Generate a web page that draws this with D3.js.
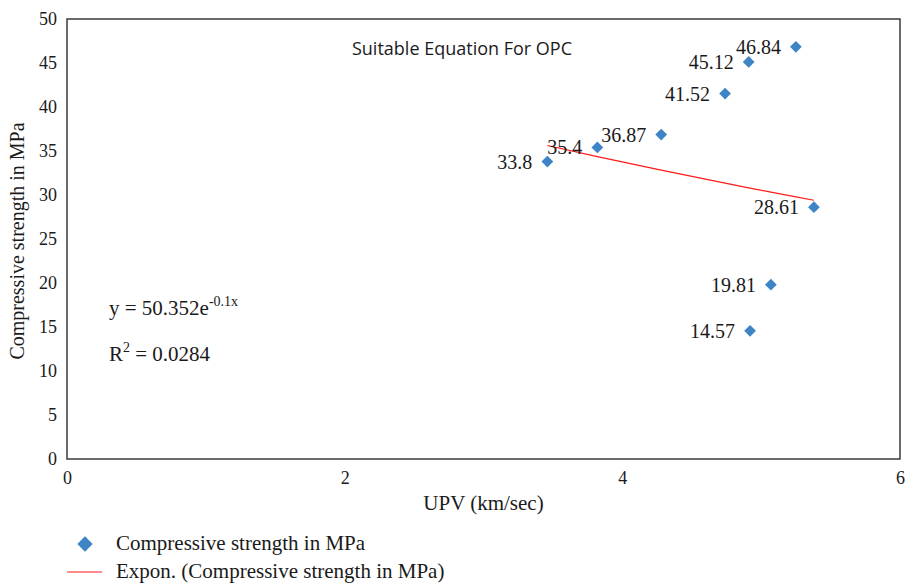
<!DOCTYPE html>
<html lang="en">
<head>
<meta charset="UTF-8">
<title>Suitable Equation For OPC</title>
<style>
  body { margin: 0; background: #fff; }
  svg text { font-family: "Liberation Serif", "DejaVu Serif", serif; fill: #1a1a1a; }
</style>
</head>
<body>
<div id="chart"></div>
<script src="https://d3js.org/d3.v7.min.js"></script>
<script>
// data
var upv = [5.25, 4.91, 4.74, 4.28, 3.82, 3.46, 5.38, 5.07, 4.92];
var strength = [46.84, 45.12, 41.52, 36.87, 35.4, 33.8, 28.61, 19.81, 14.57];
var xTicks = [0, 2, 4, 6];
var yTicks = [0, 5, 10, 15, 20, 25, 30, 35, 40, 45, 50];
// trendline shown on the chart: y = 50.352 e^(-0.1x)
var trendA = 50.352, trendB = -0.1;

var W = 906, H = 584;
var margin = { top: 19, right: 6, bottom: 125, left: 67 };
var width = W - margin.left - margin.right;
var height = H - margin.top - margin.bottom;

var points = upv.map(function (x, i) { return { x: x, y: strength[i] }; });

var xScale = d3.scaleLinear().domain([0, 6]).range([0, width]);
var yScale = d3.scaleLinear().domain([0, 50]).range([height, 0]);

var svg = d3.select('#chart').append('svg')
  .attr('width', W).attr('height', H);
var g = svg.append('g')
  .attr('transform', `translate(${margin.left},${margin.top})`);

// frame
g.append('rect')
  .attr('width', width).attr('height', height)
  .attr('fill', 'none').attr('stroke', '#3a3a3a').attr('stroke-width', 1.5);

// axes (labels only)
var xAxis = g.append('g')
  .attr('transform', `translate(0,${height})`)
  .call(d3.axisBottom(xScale).tickValues(xTicks).tickSize(0).tickPadding(12).tickFormat(d3.format('d')));
var yAxis = g.append('g')
  .call(d3.axisLeft(yScale).tickValues(yTicks).tickSize(0).tickPadding(10).tickFormat(d3.format('d')));
[xAxis, yAxis].forEach(function (a) {
  a.attr('font-family', null).attr('font-size', null);
  a.select('.domain').remove();
  a.selectAll('text')
    .style('font-family', 'Liberation Serif')
    .attr('font-size', 18).attr('fill', '#1a1a1a');
});

// axis titles
g.append('text')
  .attr('x', width / 2).attr('y', height + 51)
  .attr('text-anchor', 'middle').attr('font-size', 21)
  .text('UPV (km/sec)');
g.append('text')
  .attr('transform', `translate(${-43},${height / 2 + 2}) rotate(-90)`)
  .attr('text-anchor', 'middle').attr('font-size', 20)
  .text('Compressive strength in MPa');

// title inside plot
g.append('text')
  .attr('x', 395).attr('y', 36)
  .attr('text-anchor', 'middle')
  .style('font-family', '"Open Sans", "Noto Sans", sans-serif')
  .attr('font-size', 18)
  .text('Suitable Equation For OPC');

// trendline from the equation, over the data range
var trendX = upv.slice().sort(d3.ascending);
var trend = trendX.map(function (x) { return { x: x, y: trendA * Math.exp(trendB * x) }; });
var lineGen = d3.line().x(d => xScale(d.x)).y(d => yScale(d.y));
g.append('path')
  .datum(trend)
  .attr('d', lineGen)
  .attr('fill', 'none')
  .attr('stroke', '#ff1a1a')
  .attr('stroke-width', 1.2);

// points
var diamond = d3.symbol().type(d3.symbolDiamond2).size(88);
g.selectAll('.pt').data(points).enter().append('path')
  .attr('class', 'pt')
  .attr('transform', d => `translate(${xScale(d.x)},${yScale(d.y)})`)
  .attr('d', diamond)
  .attr('fill', '#3d85c6');

// data labels
g.selectAll('.lbl').data(points).enter().append('text')
  .attr('class', 'lbl')
  .attr('x', d => xScale(d.x) - 15)
  .attr('y', d => yScale(d.y) + 7)
  .attr('text-anchor', 'end')
  .attr('font-size', 20)
  .text(d => String(d.y));

// equation text
var eq = g.append('text').attr('x', 42).attr('y', 296).attr('font-size', 21);
eq.append('tspan').text('y = ' + trendA + 'e');
eq.append('tspan').attr('dy', -9).attr('font-size', 14).text(String(trendB) + 'x');
var r2 = g.append('text').attr('x', 42).attr('y', 342).attr('font-size', 21);
r2.append('tspan').text('R');
r2.append('tspan').attr('dy', -9).attr('font-size', 14).text('2');
r2.append('tspan').attr('dy', 9).text(' = 0.0284');

// legend
var leg = svg.append('g');
leg.append('path')
  .attr('transform', 'translate(85,544)')
  .attr('d', d3.symbol().type(d3.symbolDiamond2).size(150))
  .attr('fill', '#3d85c6');
leg.append('text').attr('x', 116).attr('y', 550).attr('font-size', 21)
  .text('Compressive strength in MPa');
leg.append('line')
  .attr('x1', 67).attr('x2', 102).attr('y1', 572).attr('y2', 572)
  .attr('stroke', '#ff1a1a').attr('stroke-width', 1.2);
leg.append('text').attr('x', 116).attr('y', 578).attr('font-size', 21)
  .text('Expon. (Compressive strength in MPa)');
</script>
</body>
</html>
